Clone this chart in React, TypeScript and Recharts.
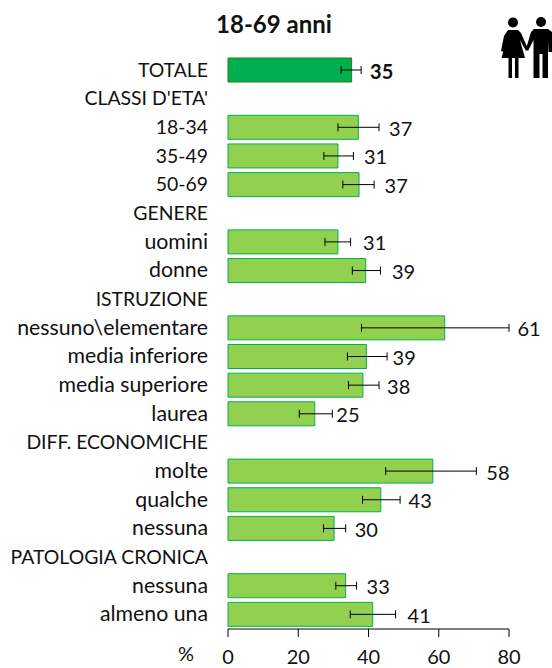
import React from 'react';
import { BarChart, Bar, XAxis, YAxis, Cell, ErrorBar, LabelList } from 'recharts';

// rows, top to bottom; group headers carry no value
const categories = [
  'TOTALE', "CLASSI D'ETA'", '18-34', '35-49', '50-69', 'GENERE', 'uomini', 'donne',
  'ISTRUZIONE', 'nessuno\\elementare', 'media inferiore', 'media superiore', 'laurea',
  'DIFF. ECONOMICHE', 'molte', 'qualche', 'nessuna', 'PATOLOGIA CRONICA', 'nessuna', 'almeno una',
];
const values = [35.2, null, 37.1, 31.3, 37.3, null, 31.3, 39.2, null, 61.7, 39.4, 38.4, 24.7, null, 58.3, 43.5, 30.2, null, 33.5, 41.2];
const printed = [35, null, 37, 31, 37, null, 31, 39, null, 61, 39, 38, 25, null, 58, 43, 30, null, 33, 41];
const ciLow = [32.2, null, 31.3, 27.3, 32.7, null, 27.6, 35.4, null, 38, 34, 34.3, 20.3, null, 44.9, 38.3, 27.2, null, 30.7, 34.8];
const ciHigh = [37.9, null, 43, 35.7, 41.6, null, 34.9, 43.4, null, 80, 45.3, 43, 29.7, null, 70.7, 49, 33.5, null, 36.6, 47.7];
const xTicks = [0, 20, 40, 60, 80];

// nudges for the value labels, which sit unevenly in the original
const labelNudge = [9, 0, 10, 10.5, 10.5, 0, 12.5, 11.5, 0, 8.5, 5.5, 8, 4, 0, 10, 8.5, 9, 0, 10, 12];

const FONT = 'Lato, sans-serif';

const data = categories.map((name, i) => ({
  id: i,
  name,
  value: values[i],
  ci: values[i] === null ? null : [values[i]! - ciLow[i]!, ciHigh[i]! - values[i]!],
  rest: values[i] === null ? null : ciHigh[i]! - values[i]!,
}));
const filled = data.filter((d) => d.value !== null);

const ValueLabel = (props: any) => {
  const { x, y, width, height, index } = props;
  const row = filled[index];
  if (!row) return null;
  return (
    <text
      x={x + width + labelNudge[row.id]}
      y={y + height / 2 + 8.5}
      textAnchor="start"
      fontFamily={FONT}
      fontSize={20}
      fontWeight={row.id === 0 ? 700 : 400}
      fill="#111"
    >
      {printed[row.id]}
    </text>
  );
};

// lower case runs wider in the original than Lato does, so it gets a bigger size
const CategoryTick = (props: any) => {
  const { x, y, payload } = props;
  const label = categories[payload.value];
  const lower = /^[a-z]/.test(label);
  return (
    <text x={x - 2} y={y + 6.5} textAnchor="end" fontFamily={FONT} fontSize={lower ? 21.3 : 19.4} fill="#111">
      {label}
    </text>
  );
};

const People = () => (
  <svg width={54} height={64} viewBox="0 0 54 64" style={{ position: 'absolute', left: 498, top: 16 }}>
    <circle cx={15} cy={6.5} r={5} fill="#000" />
    <path d="M10 14 L20 14 L23 17 L30 33 L28 35 L22 24 L27 42 L20.5 42 L20.5 62 L17 62 L17 42 L14 42 L14 62 L10.5 62 L10.5 42 L3.5 42 L8.5 24 L6 36 L3 35 L6 20 Z" fill="#000" />
    <circle cx={43} cy={6} r={5} fill="#000" />
    <path d="M36 13 L50 13 L54 16 L54 36 L50.5 36 L50 24 L50 62 L44.5 62 L44.5 38 L41.5 38 L41.5 62 L35.5 62 L35.5 24 L30 35 L28 33 L33 16 Z" fill="#000" />
  </svg>
);

export default function App() {
  return (
    <div style={{ position: 'absolute', left: 0, top: 0, width: 552, height: 668, background: '#fff', overflow: 'hidden' }}>
      <div style={{ position: 'absolute', left: 160, width: 228, top: 9, textAlign: 'center', fontFamily: FONT, fontWeight: 700, fontSize: 24, color: '#111' }}>
        18-69 anni
      </div>
      <People />
      <div style={{ position: 'absolute', left: 178, top: 641, fontFamily: FONT, fontSize: 20, color: '#111' }}>%</div>
      <BarChart
        width={552}
        height={668}
        layout="vertical"
        data={data}
        margin={{ top: 56, right: 43, bottom: 0, left: 0 }}
        barSize={24}
      >
        <XAxis
          type="number"
          domain={[0, 80]}
          ticks={xTicks}
          interval={0}
          tick={{ fontFamily: FONT, fontSize: 20, fill: '#111' }}
          stroke="#000"
          tickLine={{ stroke: '#000' }}
          tickSize={8}
          tickMargin={13}
          height={39}
        />
        <YAxis
          type="category"
          dataKey="id"
          width={228}
          interval={0}
          axisLine={false}
          tickLine={false}
          tick={CategoryTick}
          tickMargin={12}
        />
        <Bar dataKey="value" stackId="a" stroke="#00b050" fill="#92d050" isAnimationActive={false}>
          {data.map((d) => (
            <Cell key={d.id} fill={d.id === 0 ? '#00b050' : '#92d050'} stroke={d.id === 0 ? '#2e7d12' : '#00b050'} />
          ))}
          <ErrorBar dataKey="ci" direction="x" width={4} stroke="#000" strokeWidth={1} isAnimationActive={false} />
        </Bar>
        <Bar dataKey="rest" stackId="a" fill="none" stroke="none" isAnimationActive={false}>
          <LabelList dataKey="rest" content={ValueLabel} />
        </Bar>
      </BarChart>
    </div>
  );
}
